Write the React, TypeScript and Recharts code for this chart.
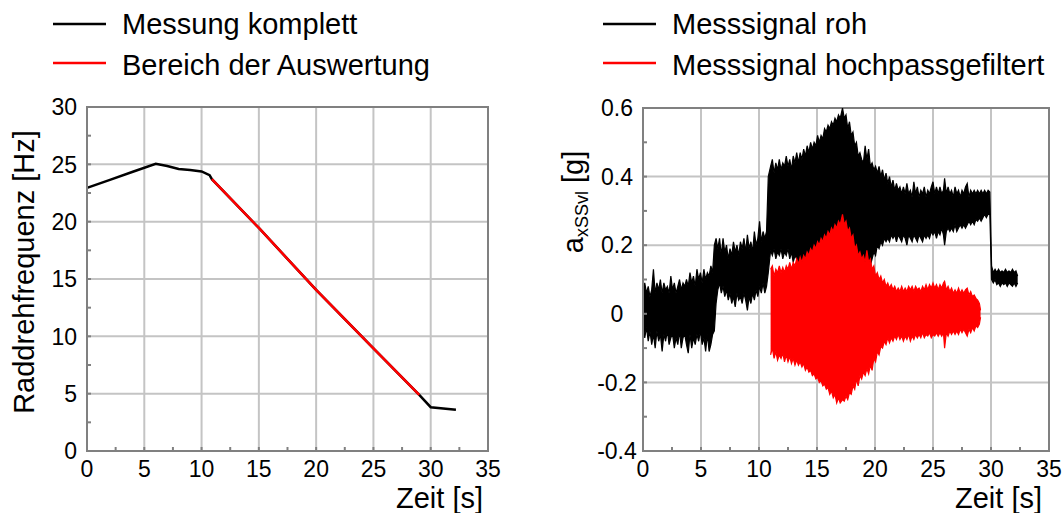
import React from 'react';
import {
    ComposedChart,
    LineChart,
    Line,
    Area,
    XAxis,
    YAxis,
    CartesianGrid,
    ReferenceArea,
} from 'recharts';

// Raddrehfrequenz [Hz] ueber Zeit [s]
const zeitKomplett = [0, 2, 4, 6, 7, 8, 9, 10, 10.7, 10.9, 15, 20, 25, 29.0, 30, 32.2];
const freqKomplett = [22.95, 23.65, 24.35, 25.05, 24.85, 24.6, 24.5, 24.38, 24.05, 23.7, 19.45, 14.05, 8.95, 4.9, 3.82, 3.6];
const zeitAuswertung = [10.9, 15, 20, 25, 29.0];
const freqAuswertung = [23.7, 19.45, 14.05, 8.95, 4.9];

// Messsignal roh: Huellkurve (unten / oben) in g
const rohT = [
    0.0, 0.15, 0.3, 0.45, 0.6, 0.75, 0.9, 1.05, 1.2, 1.35, 1.5, 1.65, 1.8, 1.95, 2.1, 2.25, 2.4, 2.55, 2.7, 2.85,
    3.0, 3.15, 3.3, 3.45, 3.6, 3.75, 3.9, 4.05, 4.2, 4.35, 4.5, 4.65, 4.8, 4.95, 5.1, 5.25, 5.4, 5.55, 5.7, 5.85,
    6.0, 6.15, 6.3, 6.45, 6.6, 6.75, 6.9, 7.05, 7.2, 7.35, 7.5, 7.65, 7.8, 7.95, 8.1, 8.25, 8.4, 8.55, 8.7, 8.85,
    9.0, 9.15, 9.3, 9.45, 9.6, 9.75, 9.9, 10.05, 10.2, 10.35, 10.5, 10.65, 10.8, 11.0, 11.15, 11.3, 11.45, 11.6, 11.75, 11.9,
    12.05, 12.2, 12.35, 12.5, 12.65, 12.8, 12.95, 13.1, 13.25, 13.4, 13.55, 13.7, 13.85, 14.0, 14.15, 14.3, 14.45, 14.6, 14.75, 14.9,
    15.05, 15.2, 15.35, 15.5, 15.65, 15.8, 15.95, 16.1, 16.25, 16.4, 16.55, 16.7, 16.85, 17.0, 17.2, 17.35, 17.5, 17.65, 17.8, 17.95,
    18.1, 18.25, 18.4, 18.55, 18.7, 18.85, 19.0, 19.15, 19.3, 19.45, 19.6, 19.75, 19.9, 20.05, 20.2, 20.35, 20.5, 20.65, 20.8, 20.95,
    21.1, 21.25, 21.4, 21.55, 21.7, 21.85, 22.0, 22.15, 22.3, 22.45, 22.6, 22.75, 22.9, 23.05, 23.2, 23.35, 23.5, 23.65, 23.8, 23.95,
    24.1, 24.25, 24.4, 24.55, 24.7, 24.85, 25.0, 25.15, 25.3, 25.45, 25.6, 25.75, 25.9, 26.0, 26.15, 26.3, 26.45, 26.6, 26.75, 26.9,
    27.05, 27.2, 27.35, 27.5, 27.65, 27.8, 27.95, 28.1, 28.25, 28.4, 28.55, 28.7, 28.85, 29.0, 29.15, 29.3, 29.45, 29.6, 29.75, 29.9,
    30.05, 30.2, 30.35, 30.5, 30.65, 30.8, 30.95, 31.1, 31.25, 31.4, 31.55, 31.7, 31.85, 32.0, 32.15, 32.3,
];
const rohLo = [
    -0.03, -0.07, -0.04, -0.08, -0.05, -0.09, -0.06, -0.1, -0.05, -0.08, -0.06, -0.11, -0.06, -0.08, -0.05, -0.09, -0.07, -0.06, -0.1, -0.07,
    -0.09, -0.05, -0.1, -0.07, -0.06, -0.09, -0.115, -0.06, -0.1, -0.07, -0.09, -0.06, -0.08, -0.05, -0.09, -0.07, -0.11, -0.06, -0.11, -0.09,
    -0.06, -0.05, 0.03, 0.07, 0.09, 0.06, 0.08, 0.05, 0.07, 0.04, 0.06, 0.03, 0.05, 0.02, 0.06, 0.04, 0.05, 0.03, 0.06, 0.04,
    0.01, 0.05, 0.03, 0.06, 0.04, 0.07, 0.05, 0.08, 0.06, 0.09, 0.06, 0.08, 0.12, 0.185, 0.17, 0.19, 0.16, 0.18, 0.17, 0.19,
    0.16, 0.18, 0.17, 0.19, 0.16, 0.18, 0.15, 0.17, 0.16, 0.15, 0.17, 0.15, 0.16, 0.17, 0.16, 0.18, 0.17, 0.19, 0.18, 0.2,
    0.19, 0.21, 0.2, 0.22, 0.21, 0.23, 0.22, 0.24, 0.23, 0.24, 0.25, 0.24, 0.26, 0.25, 0.25, 0.24, 0.23, 0.22, 0.21, 0.19,
    0.18, 0.17, 0.16, 0.15, 0.13, 0.15, 0.13, 0.14, 0.12, 0.15, 0.14, 0.16, 0.18, 0.17, 0.2, 0.19, 0.21, 0.2, 0.22, 0.21,
    0.22, 0.21, 0.23, 0.22, 0.23, 0.21, 0.23, 0.22, 0.21, 0.23, 0.22, 0.2, 0.23, 0.22, 0.21, 0.23, 0.22, 0.21, 0.23, 0.22,
    0.21, 0.23, 0.22, 0.23, 0.22, 0.24, 0.23, 0.24, 0.22, 0.24, 0.23, 0.25, 0.23, 0.2, 0.24, 0.25, 0.24, 0.25, 0.24, 0.26,
    0.24, 0.25, 0.26, 0.25, 0.26, 0.25, 0.26, 0.27, 0.26, 0.27, 0.26, 0.275, 0.27, 0.28, 0.27, 0.28, 0.29, 0.28, 0.29, 0.29,
    0.1, 0.09, 0.1, 0.085, 0.09, 0.08, 0.09, 0.085, 0.09, 0.08, 0.09, 0.085, 0.08, 0.09, 0.08, 0.09,
];
const rohHi = [
    0.05, 0.09, 0.06, 0.08, 0.05, 0.07, 0.13, 0.06, 0.09, 0.07, 0.1, 0.06, 0.09, 0.07, 0.08, 0.06, 0.11, 0.07, 0.09, 0.06,
    0.08, 0.1, 0.07, 0.09, 0.08, 0.1, 0.08, 0.12, 0.09, 0.11, 0.08, 0.13, 0.1, 0.12, 0.09, 0.13, 0.1, 0.12, 0.11, 0.14,
    0.12, 0.2, 0.22, 0.19, 0.22, 0.17, 0.22, 0.18, 0.2, 0.16, 0.19, 0.17, 0.21, 0.18, 0.2, 0.17, 0.21, 0.19, 0.22, 0.18,
    0.23, 0.19, 0.21, 0.18, 0.24, 0.2, 0.22, 0.27, 0.21, 0.24, 0.22, 0.24, 0.4, 0.43, 0.45, 0.41, 0.44, 0.42, 0.45, 0.42,
    0.44, 0.43, 0.46, 0.43, 0.45, 0.42, 0.46, 0.44, 0.47, 0.44, 0.47, 0.45, 0.48, 0.46, 0.49, 0.47, 0.5, 0.48, 0.5, 0.49,
    0.52, 0.5, 0.52, 0.51, 0.54, 0.53, 0.55, 0.54, 0.56, 0.55, 0.57, 0.56, 0.58, 0.57, 0.6, 0.57, 0.58, 0.54, 0.56, 0.52,
    0.53, 0.49, 0.5, 0.46, 0.47, 0.45, 0.44, 0.49, 0.45, 0.48, 0.43, 0.44, 0.42, 0.43, 0.41, 0.43, 0.4, 0.42, 0.39, 0.41,
    0.38, 0.4, 0.37, 0.39, 0.36, 0.38, 0.36, 0.37, 0.35, 0.37, 0.35, 0.38, 0.35, 0.36, 0.34, 0.385, 0.35, 0.37, 0.34, 0.36,
    0.35, 0.37, 0.34, 0.36, 0.35, 0.37, 0.385, 0.35, 0.37, 0.35, 0.37, 0.35, 0.36, 0.395, 0.35, 0.37, 0.35, 0.36, 0.34, 0.37,
    0.35, 0.36, 0.34, 0.36, 0.35, 0.37, 0.38, 0.34, 0.36, 0.35, 0.36, 0.35, 0.36, 0.35, 0.36, 0.35, 0.36, 0.35, 0.36, 0.355,
    0.14, 0.12, 0.13, 0.12, 0.13, 0.12, 0.125, 0.12, 0.13, 0.12, 0.125, 0.12, 0.13, 0.12, 0.125, 0.11,
];

// Messsignal hochpassgefiltert: Huellkurve (unten / oben) in g
const filtT = [
    11.0, 11.15, 11.3, 11.45, 11.6, 11.75, 11.9, 12.05, 12.2, 12.35, 12.5, 12.65, 12.8, 12.95, 13.1, 13.25, 13.4, 13.55, 13.7, 13.85,
    14.0, 14.15, 14.3, 14.45, 14.6, 14.75, 14.9, 15.05, 15.2, 15.35, 15.5, 15.65, 15.8, 15.95, 16.1, 16.25, 16.4, 16.55, 16.7, 16.85,
    17.0, 17.2, 17.35, 17.5, 17.65, 17.8, 17.95, 18.1, 18.25, 18.4, 18.55, 18.7, 18.85, 19.0, 19.15, 19.3, 19.45, 19.6, 19.75, 19.9,
    20.05, 20.2, 20.35, 20.5, 20.65, 20.8, 20.95, 21.1, 21.25, 21.4, 21.55, 21.7, 21.85, 22.0, 22.15, 22.3, 22.45, 22.6, 22.75, 22.9,
    23.05, 23.2, 23.35, 23.5, 23.65, 23.8, 23.95, 24.1, 24.25, 24.4, 24.55, 24.7, 24.85, 25.0, 25.15, 25.3, 25.45, 25.6, 25.75, 25.9,
    26.0, 26.15, 26.3, 26.45, 26.6, 26.75, 26.9, 27.05, 27.2, 27.35, 27.5, 27.65, 27.8, 27.95, 28.1, 28.25, 28.4, 28.55, 28.7, 28.85,
    29.0, 29.1,
];
const filtLo = [
    -0.12, -0.1, -0.13, -0.11, -0.135, -0.12, -0.13, -0.115, -0.14, -0.12, -0.14, -0.125, -0.145, -0.13, -0.15, -0.135, -0.15, -0.14, -0.155, -0.145,
    -0.165, -0.155, -0.17, -0.165, -0.18, -0.175, -0.19, -0.185, -0.2, -0.195, -0.21, -0.205, -0.22, -0.215, -0.235, -0.225, -0.245, -0.235, -0.26, -0.245,
    -0.26, -0.25, -0.255, -0.24, -0.25, -0.23, -0.235, -0.21, -0.22, -0.19, -0.21, -0.18, -0.19, -0.17, -0.18, -0.16, -0.175, -0.15, -0.165, -0.13,
    -0.14, -0.11, -0.12, -0.095, -0.1, -0.08, -0.09, -0.07, -0.085, -0.07, -0.08, -0.065, -0.075, -0.06, -0.075, -0.065, -0.08, -0.065, -0.075, -0.06,
    -0.08, -0.065, -0.075, -0.06, -0.07, -0.06, -0.07, -0.055, -0.07, -0.06, -0.065, -0.055, -0.07, -0.06, -0.065, -0.055, -0.065, -0.055, -0.065, -0.055,
    -0.1, -0.055, -0.065, -0.05, -0.06, -0.05, -0.06, -0.05, -0.06, -0.045, -0.055, -0.045, -0.055, -0.065, -0.045, -0.055, -0.04, -0.05, -0.035, -0.04,
    -0.03, -0.01,
];
const filtHi = [
    0.13, 0.14, 0.11, 0.13, 0.12, 0.14, 0.12, 0.135, 0.12, 0.14, 0.13, 0.15, 0.13, 0.15, 0.14, 0.16, 0.145, 0.165, 0.15, 0.17,
    0.16, 0.18, 0.17, 0.19, 0.18, 0.2, 0.19, 0.21, 0.2, 0.22, 0.21, 0.23, 0.22, 0.24, 0.23, 0.25, 0.24, 0.26, 0.25, 0.27,
    0.26, 0.29, 0.26, 0.27, 0.24, 0.25, 0.22, 0.23, 0.19, 0.2, 0.17, 0.18, 0.16, 0.17, 0.15, 0.185, 0.15, 0.16, 0.13, 0.14,
    0.11, 0.12, 0.1, 0.11, 0.09, 0.1, 0.08, 0.09, 0.075, 0.085, 0.07, 0.08, 0.065, 0.075, 0.065, 0.08, 0.065, 0.075, 0.065, 0.08,
    0.07, 0.08, 0.065, 0.08, 0.07, 0.075, 0.065, 0.08, 0.07, 0.085, 0.07, 0.085, 0.075, 0.09, 0.075, 0.085, 0.07, 0.085, 0.075, 0.09,
    0.095, 0.07, 0.08, 0.065, 0.075, 0.06, 0.07, 0.06, 0.075, 0.06, 0.07, 0.06, 0.07, 0.075, 0.055, 0.065, 0.05, 0.055, 0.045, 0.04,
    0.03, 0.01,
];

const xTicks = [0, 2.5, 5, 7.5, 10, 12.5, 15, 17.5, 20, 22.5, 25, 27.5, 30, 32.5, 35];
const xMajor = [0, 5, 10, 15, 20, 25, 30, 35];
const yTicksLinks = [0, 2.5, 5, 7.5, 10, 12.5, 15, 17.5, 20, 22.5, 25, 27.5, 30];
const yMajorLinks = [0, 5, 10, 15, 20, 25, 30];
const yTicksRechts = [-0.4, -0.3, -0.2, -0.1, 0, 0.1, 0.2, 0.3, 0.4, 0.5, 0.6];
const yMajorRechts = [-0.4, -0.2, 0, 0.2, 0.4, 0.6];

const FONT = '"Liberation Sans", Arial, sans-serif';
const AXIS = '#808080';
const GRID = '#c4c4c4';

// Tabellen fuer Recharts
const freqData = Array.from(new Set([...zeitKomplett, ...zeitAuswertung]))
    .sort((a, b) => a - b)
    .map((t) => {
        const i = zeitKomplett.indexOf(t);
        const j = zeitAuswertung.indexOf(t);
        return {
            t,
            komplett: i >= 0 ? freqKomplett[i] : null,
            auswertung: j >= 0 ? freqAuswertung[j] : null,
        };
    });

const signalData = Array.from(new Set([...rohT, ...filtT]))
    .sort((a, b) => a - b)
    .map((t) => {
        const i = rohT.indexOf(t);
        const j = filtT.indexOf(t);
        return {
            t,
            roh: i >= 0 ? [rohLo[i], rohHi[i]] : null,
            filt: j >= 0 ? [filtLo[j], filtHi[j]] : null,
        };
    });

const isMajor = (v: number, major: number[]) => major.some((m) => Math.abs(m - v) < 1e-9);

const fmt = (v: number) => (Math.abs(v) < 1e-9 ? '0' : String(Math.round(v * 10) / 10));

const XTick = (props: any) => {
    const { x, y, payload } = props;
    const v = payload.value as number;
    return (
        <g>
            <line x1={x} x2={x} y1={y} y2={y - 4} stroke={AXIS} strokeWidth={2} />
            {isMajor(v, xMajor) && (
                <text x={x} y={y + 26} textAnchor="middle" fontSize={23} fontFamily={FONT} fill="#000">
                    {fmt(v)}
                </text>
            )}
        </g>
    );
};

const makeYTick = (major: number[], anchor: 'end' | 'middle', dx: number) => (props: any) => {
    const { x, y, payload } = props;
    const v = payload.value as number;
    return (
        <g>
            <line x1={x} x2={x + 4} y1={y} y2={y} stroke={AXIS} strokeWidth={2} />
            {isMajor(v, major) && (
                <text x={x - dx} y={y} dy="0.36em" textAnchor={anchor} fontSize={23} fontFamily={FONT} fill="#000">
                    {fmt(v)}
                </text>
            )}
        </g>
    );
};

const YTickLinks = makeYTick(yMajorLinks, 'end', 10);
const YTickRechts = makeYTick(yMajorRechts, 'middle', 26);

const LegendBlock = ({ left, items }: { left: number; items: { name: string; color: string }[] }) => (
    <svg style={{ position: 'absolute', left, top: 0 }} width={500} height={90}>
        {items.map((it, i) => (
            <g key={it.name}>
                <line x1={0} x2={53} y1={24 + i * 39} y2={24 + i * 39} stroke={it.color} strokeWidth={2.5} />
                <text x={69} y={34 + i * 41} fontSize={29} fontFamily={FONT} fill="#000">
                    {it.name}
                </text>
            </g>
        ))}
    </svg>
);

const App: React.FC = () => {
    return (
        <div style={{ position: 'absolute', left: 0, top: 0, width: 1064, height: 513, background: '#fff', fontFamily: FONT }}>
            <LegendBlock
                left={53}
                items={[
                    { name: 'Messung komplett', color: '#000' },
                    { name: 'Bereich der Auswertung', color: '#ff0000' },
                ]}
            />
            <LegendBlock
                left={603}
                items={[
                    { name: 'Messsignal roh', color: '#000' },
                    { name: 'Messsignal hochpassgefiltert', color: '#ff0000' },
                ]}
            />

            {/* linkes Diagramm: Raddrehfrequenz */}
            <div style={{ position: 'absolute', left: 0, top: 0 }}>
                <LineChart width={520} height={513} data={freqData} margin={{ top: 107, right: 32, bottom: 0, left: 0 }}>
                    <CartesianGrid
                        stroke={GRID}
                        strokeWidth={2}
                        verticalValues={xMajor}
                        horizontalValues={yMajorLinks}
                    />
                    <ReferenceArea x1={0} x2={35} y1={0} y2={30} fill="none" stroke={AXIS} strokeWidth={2} ifOverflow="visible" />
                    <XAxis
                        type="number"
                        dataKey="t"
                        domain={[0, 35]}
                        ticks={xTicks}
                        interval={0}
                        height={62}
                        tickSize={0}
                        tickMargin={0}
                        tickLine={false}
                        axisLine={{ stroke: AXIS, strokeWidth: 2 }}
                        tick={<XTick />}
                        label={{
                            content: ({ viewBox }: any) => (
                                <text x={viewBox.x + viewBox.width - 5} y={viewBox.y + 57} textAnchor="end" fontSize={29} fontFamily={FONT} fill="#000">
                                    Zeit [s]
                                </text>
                            ),
                        }}
                    />
                    <YAxis
                        type="number"
                        domain={[0, 30]}
                        ticks={yTicksLinks}
                        interval={0}
                        width={87}
                        tickSize={0}
                        tickMargin={0}
                        tickLine={false}
                        axisLine={{ stroke: AXIS, strokeWidth: 2 }}
                        tick={<YTickLinks />}
                        label={{
                            content: ({ viewBox }: any) => {
                                const cx = viewBox.x + 34;
                                const cy = viewBox.y + viewBox.height / 2 - 7;
                                return (
                                    <text x={cx} y={cy} transform={`rotate(-90, ${cx}, ${cy})`} textAnchor="middle" fontSize={29} fontFamily={FONT} fill="#000">
                                        Raddrehfrequenz [Hz]
                                    </text>
                                );
                            },
                        }}
                    />
                    <Line type="linear" dataKey="komplett" stroke="#000" strokeWidth={2.5} dot={false} connectNulls isAnimationActive={false} />
                    <Line type="linear" dataKey="auswertung" stroke="#ff0000" strokeWidth={2.5} dot={false} connectNulls isAnimationActive={false} />
                </LineChart>
            </div>

            {/* rechtes Diagramm: Beschleunigung */}
            <div style={{ position: 'absolute', left: 540, top: 0 }}>
                <ComposedChart width={524} height={513} data={signalData} margin={{ top: 108, right: 15, bottom: 0, left: 0 }}>
                    <CartesianGrid
                        stroke={GRID}
                        strokeWidth={2}
                        verticalValues={xMajor}
                        horizontalValues={yMajorRechts}
                    />
                    <ReferenceArea x1={0} x2={35} y1={-0.4} y2={0.6} fill="none" stroke={AXIS} strokeWidth={2} ifOverflow="visible" />
                    <XAxis
                        type="number"
                        dataKey="t"
                        domain={[0, 35]}
                        ticks={xTicks}
                        interval={0}
                        height={62}
                        tickSize={0}
                        tickMargin={0}
                        tickLine={false}
                        axisLine={{ stroke: AXIS, strokeWidth: 2 }}
                        tick={<XTick />}
                        label={{
                            content: ({ viewBox }: any) => (
                                <text x={viewBox.x + viewBox.width - 7} y={viewBox.y + 57} textAnchor="end" fontSize={29} fontFamily={FONT} fill="#000">
                                    Zeit [s]
                                </text>
                            ),
                        }}
                    />
                    <YAxis
                        type="number"
                        domain={[-0.4, 0.6]}
                        ticks={yTicksRechts}
                        interval={0}
                        width={103}
                        allowDataOverflow
                        tickSize={0}
                        tickMargin={0}
                        tickLine={false}
                        axisLine={{ stroke: AXIS, strokeWidth: 2 }}
                        tick={<YTickRechts />}
                        label={{
                            content: ({ viewBox }: any) => {
                                const cx = viewBox.x + 43;
                                const cy = viewBox.y + 94;
                                return (
                                    <text x={cx} y={cy} transform={`rotate(-90, ${cx}, ${cy})`} textAnchor="middle" fontSize={29} fontFamily={FONT} fill="#000">
                                        <tspan>a</tspan>
                                        <tspan fontSize={18} dy={5}>xSSvl</tspan>
                                        <tspan dy={-5}> [g]</tspan>
                                    </text>
                                );
                            },
                        }}
                    />
                    <Area
                        type="linear"
                        dataKey="roh"
                        stroke="#000"
                        strokeWidth={1.2}
                        fill="#000"
                        fillOpacity={1}
                        connectNulls
                        dot={false}
                        activeDot={false}
                        isAnimationActive={false}
                    />
                    <Area
                        type="linear"
                        dataKey="filt"
                        stroke="#ff0000"
                        strokeWidth={1.2}
                        fill="#ff0000"
                        fillOpacity={1}
                        connectNulls
                        dot={false}
                        activeDot={false}
                        isAnimationActive={false}
                    />
                </ComposedChart>
            </div>
        </div>
    );
};

export default App;
